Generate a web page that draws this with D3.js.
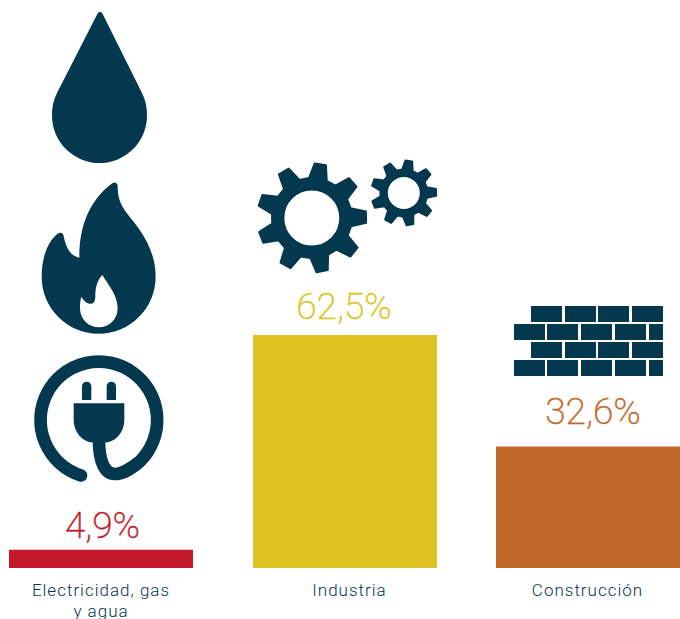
<!DOCTYPE html>
<html lang="es">
<head>
<meta charset="utf-8">
<script src="https://cdn.jsdelivr.net/npm/d3@7"></script>
<style>
  html, body { margin: 0; padding: 0; background: #fff; }
  svg { display: block; }
  text { font-family: Roboto, sans-serif; }
</style>
</head>
<body>
<svg id="chart" width="680" height="619"></svg>
<script>
// Sector shares of the total
const categories = ["Electricidad, gas|y agua", "Industria", "Construcción"];
const shares = [4.9, 62.5, 32.6];
const barColors = ["#c5192d", "#dfc322", "#c26828"];
const navy = "#03384e";

// Label placement relative to each bar
const valueGap = [11.5, 16, 22.5];
const valueShift = [1.5, -1, 5];
const labelShift = [0, 4.5, -0.5];

const svg = d3.select("#chart");

const x = d3.scaleBand().domain(categories).range([9.2, 680]).paddingInner(0.2445).paddingOuter(0);
const y = d3.scaleLinear().domain([0, 100]).range([568, 195.2]);
const fmt = v => d3.format(".1f")(v).replace(".", ",") + "%";
const barLeft = d => Math.round(x(d));
const barWidth = Math.round(x.bandwidth());
const barMid = d => barLeft(d) + barWidth / 2;

// Bars
svg.selectAll("rect.bar").data(categories).join("rect")
  .attr("class", "bar")
  .attr("x", barLeft)
  .attr("width", barWidth)
  .attr("y", (d, i) => y(shares[i]))
  .attr("height", (d, i) => y(0) - y(shares[i]))
  .attr("fill", (d, i) => barColors[i]);

// Percentage labels above the bars
svg.selectAll("text.value").data(categories).join("text")
  .attr("class", "value")
  .attr("x", (d, i) => barMid(d) + valueShift[i])
  .attr("y", (d, i) => y(shares[i]) - valueGap[i])
  .attr("text-anchor", "middle")
  .attr("font-size", 37)
  .attr("font-weight", 200)
  .attr("fill", (d, i) => barColors[i])
  .attr("stroke", (d, i) => barColors[i])
  .attr("stroke-width", 0.4)
  .text((d, i) => fmt(shares[i]));

// Category labels, split over lines at "|"
const labels = svg.selectAll("text.cat").data(categories).join("text")
  .attr("class", "cat")
  .attr("text-anchor", "middle")
  .attr("font-size", 17)
  .attr("font-weight", 300)
  .attr("letter-spacing", 1)
  .attr("fill", navy);
labels.selectAll("tspan").data((d, i) => d.split("|").map(t => ({ t, c: d, i }))).join("tspan")
  .attr("x", d => barMid(d.c) + labelShift[d.i])
  .attr("y", (d, i) => 596 + i * 20.5)
  .text(d => d.t);

// --- Icons ---
const icons = svg.append("g").attr("fill", navy);

// Water drop
icons.append("path").attr("d",
  "M97.6 13.5 Q100 10 102.4 13.5 L141.5 92 C145 99 147 106 147 115.5 A47.5 47.5 0 0 1 52 115.5 C52 106 54 99 57.5 92 Z");

// Flame with its inner tongue cut out
icons.append("path")
  .attr("transform", "translate(20,0) scale(0.3333)")
  .attr("fill-rule", "evenodd")
  .attr("d",
    "M278 549 Q291 543 293 558 C293 590 300 612 318 636 C345 672 407 735 407 830 " +
    "C407 925 330 1001 236 1001 C142 1001 65 925 65 830 C65 770 85 722 113 701 " +
    "Q127 694 131 708 C137 740 150 768 178 773 C178 700 195 610 278 549 Z " +
    "M247 825 C234 838 226 860 226 885 C226 905 222 912 210 911 C198 910 190 900 184 890 " +
    "C180 905 180 915 180 925 C180 958 205 982 237 982 C268 982 293 958 293 925 C293 885 265 855 247 825 Z");

// Electric plug and its cord
const plug = icons.append("g").attr("transform", "translate(0,340) scale(0.3333)");
plug.append("path")
  .attr("fill", "none")
  .attr("stroke", navy)
  .attr("stroke-width", 38)
  .attr("stroke-linecap", "round")
  .attr("d", "M243 406.5 A175 175 0 1 1 420 364 C392 388 362 402 345 402 C312 402 297 360 297 300");
plug.append("path").attr("d",
  "M221 190 H373 V238 C373 280 345 308 310 308 H284 C249 308 221 280 221 238 Z");
plug.selectAll("path.prong").data([246, 320]).join("path")
  .attr("class", "prong")
  .attr("d", d => `M${d} 180 V139 A14 14 0 0 1 ${d + 28} 139 V180 Z`);

// Gears: nine tapered teeth around a round hole
function gearPath(cx, cy, hole, root, tip, startDeg) {
  const rad = a => a * Math.PI / 180;
  const pt = (r, a) => [cx + r * Math.cos(rad(a)), cy + r * Math.sin(rad(a))];
  const p = d3.path();
  d3.range(9).forEach(i => {
    const a = startDeg + i * 40;
    const b0 = pt(root, a - 13), t0 = pt(tip, a - 6), t1 = pt(tip, a + 6), b1 = pt(root, a + 13);
    i === 0 ? p.moveTo(...b0) : p.lineTo(...b0);
    p.lineTo(...t0);
    p.lineTo(...t1);
    p.lineTo(...b1);
  });
  p.closePath();
  p.moveTo(cx + hole, cy);
  p.arc(cx, cy, hole, 0, 2 * Math.PI);
  return p.toString();
}
const gears = [
  { cx: 311.8, cy: 218, hole: 28.5, root: 40, tip: 54.5, start: -81 },
  { cx: 403.8, cy: 193, hole: 17, root: 23.5, tip: 32.5, start: -81 }
];
icons.selectAll("path.gear").data(gears).join("path")
  .attr("class", "gear")
  .attr("fill-rule", "evenodd")
  .attr("stroke", navy)
  .attr("stroke-width", 2)
  .attr("stroke-linejoin", "round")
  .attr("d", d => gearPath(d.cx, d.cy, d.hole, d.root, d.tip, d.start));

// Brick wall: alternating courses, each brick as [left, right]
const oddCourse = [[531, 562], [565, 596], [598, 629], [632, 663]];
const evenCourse = [[514, 545], [547, 578], [581, 612], [615, 646], [649, 663]];
const courses = [
  { top: 306, bricks: oddCourse },
  { top: 324, bricks: evenCourse },
  { top: 342, bricks: oddCourse },
  { top: 360, bricks: evenCourse }
];
const brickHeight = 16;
icons.selectAll("g.course").data(courses).join("g")
  .attr("class", "course")
  .selectAll("rect").data(d => d.bricks.map(b => ({ b, top: d.top }))).join("rect")
  .attr("x", d => d.b[0])
  .attr("width", d => d.b[1] - d.b[0])
  .attr("y", d => d.top)
  .attr("height", brickHeight);
</script>
</body>
</html>
